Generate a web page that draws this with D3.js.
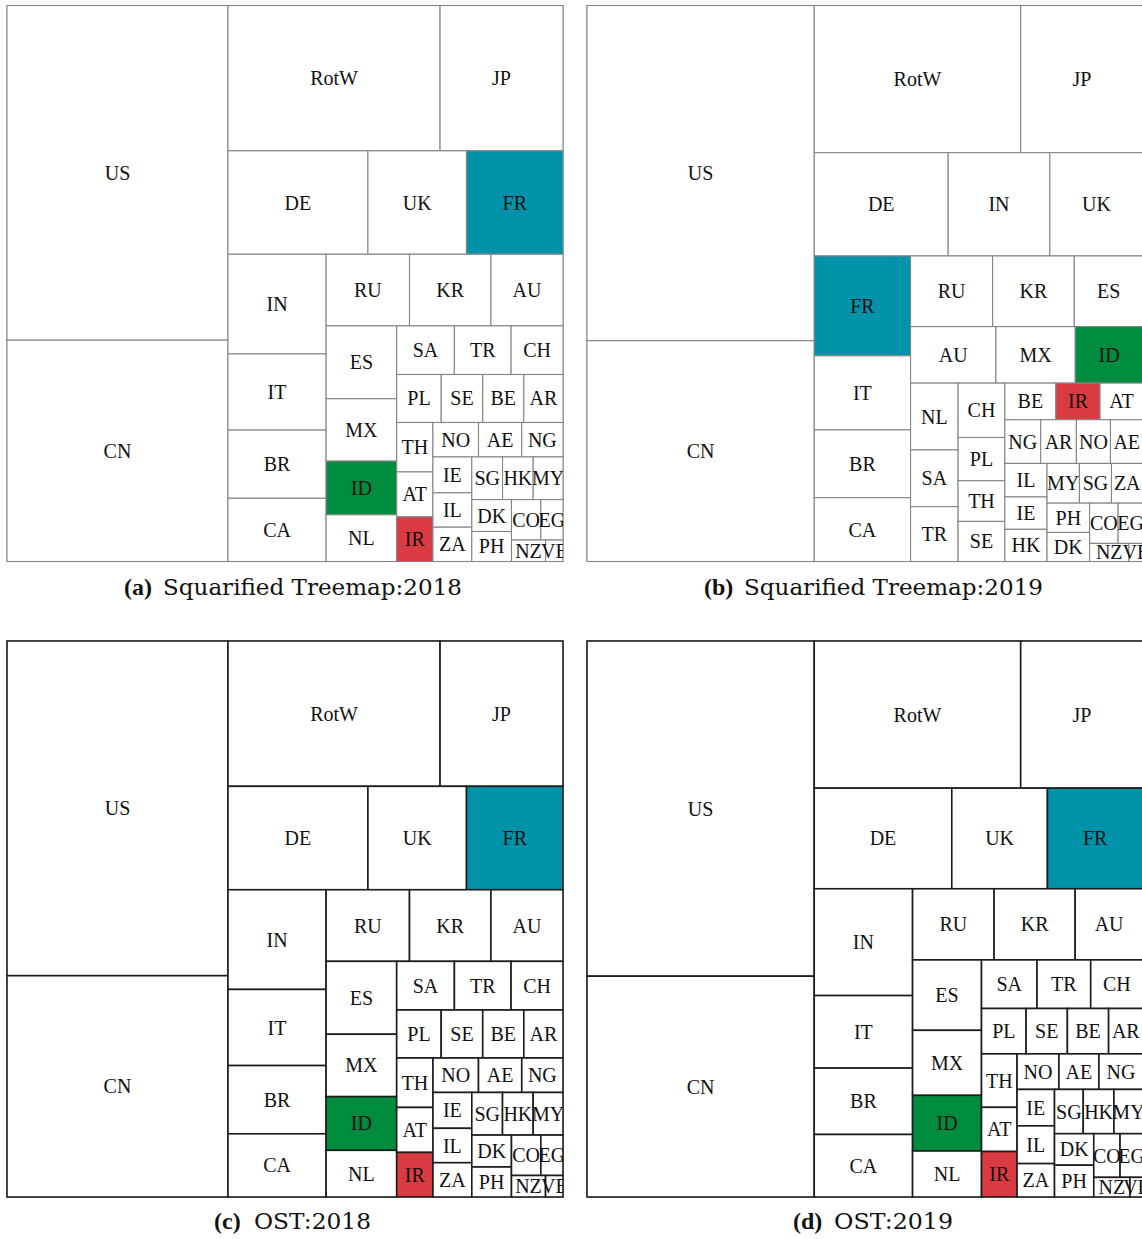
<!DOCTYPE html>
<html>
<head>
<meta charset="utf-8">
<script src="https://cdn.jsdelivr.net/npm/d3@7"></script>
<style>
  html, body { margin: 0; padding: 0; background: #fff; }
  svg { display: block; }
</style>
</head>
<body>
<svg id="chart" width="1142" height="1239"></svg>
<script>
// GDP by economy, billions of US$, listed in tile order.
const countries2018 = ["US","CN","RotW","JP","DE","UK","FR","IN","IT","BR","CA","RU","KR","AU","ES",
  "MX","ID","NL","SA","TR","CH","PL","SE","BE","AR","TH","AT","IR","NO","AE","NG","IE","IL","ZA",
  "SG","HK","MY","DK","PH","CO","EG","NZ","VE"];
const gdp2018 = [20494,13550,8540,4950,4010,2825,2765,2710,2070,1855,1718,1655,1615,1430,1426,
  1220,1050,913,778,764,700,592,552,546,521,497,452,448,435,413,394,386,370,369,
  363,362,352,351,330,329,248,203,104];

const countries2019 = ["US","CN","RotW","JP","DE","IN","UK","FR","IT","BR","CA","RU","KR","ES","AU",
  "MX","ID","NL","SA","TR","CH","PL","TH","SE","BE","IR","AT","NG","AR","NO","AE","IL","IE","HK",
  "MY","SG","ZA","PH","DK","CO","EG","NZ","VE"];
const gdp2019 = [21433,14118,8547,5064,3894,2955,2708,2706,2007,1836,1730,1631,1623,1366,1358,
  1262,1078,893,759,734,715,569,535,527,526,455,442,441,439,419,400,398,384,382,
  362,358,352,351,348,323,282,200,72];

// Highlighted economies
const fillFor = { FR: "#0092a9", ID: "#008c3f", IR: "#da3a41" };

const side = 556;
const svg = d3.select("#chart");

function makeRoot(names, values) {
  return d3.hierarchy({ children: names.map((n, i) => ({ name: n, value: values[i] })) })
    .sum(d => d.value || 0);
}
function snapshot(root) {
  return root.leaves().map(l => ({ name: l.data.name, x0: l.x0, y0: l.y0, x1: l.x1, y1: l.y1 }));
}

// Squarified layouts, one per year
const squarify = d3.treemap().tile(d3.treemapSquarify.ratio(1)).size([side, side]);
const sq2018 = snapshot(squarify(makeRoot(countries2018, gdp2018)));
const sq2019 = snapshot(squarify(makeRoot(countries2019, gdp2019)));

// Stable layout: 2019 values re-laid on the 2018 topology
const stable = d3.treemap().tile(d3.treemapResquarify.ratio(1)).size([side, side]);
const stableRoot = makeRoot(countries2018, gdp2018);
stable(stableRoot);
const st2018 = snapshot(stableRoot);
const value2019 = new Map(countries2019.map((c, i) => [c, gdp2019[i]]));
stableRoot.sum(d => d.name ? value2019.get(d.name) : 0);
stable(stableRoot);
const st2019 = snapshot(stableRoot);

const panels = [
  { key: "a", x: 7,   y: 5.5, cells: sq2018, stroke: "#858585", sw: 1.1, tag: "(a)", title: "Squarified Treemap:2018",
    tagX: 124, titleX: 163, titleLen: 299, base: 595 },
  { key: "b", x: 587, y: 5.5, cells: sq2019, stroke: "#858585", sw: 1.1, tag: "(b)", title: "Squarified Treemap:2019",
    tagX: 704, titleX: 744, titleLen: 299, base: 595 },
  { key: "c", x: 7,   y: 641, cells: st2018, stroke: "#1c1c1c", sw: 1.6, tag: "(c)", title: "OST:2018",
    tagX: 214, titleX: 254, titleLen: 117, base: 1229 },
  { key: "d", x: 587, y: 641, cells: st2019, stroke: "#1c1c1c", sw: 1.6, tag: "(d)", title: "OST:2019",
    tagX: 793, titleX: 834, titleLen: 119, base: 1229 }
];

const defs = svg.append("defs");

panels.forEach(p => {
  const sx = d3.scaleLinear().domain([0, side]).range([p.x, p.x + side]);
  const sy = d3.scaleLinear().domain([0, side]).range([p.y, p.y + side]);

  defs.append("clipPath").attr("id", "clip-" + p.key)
    .append("rect").attr("x", sx(0)).attr("y", sy(0))
    .attr("width", sx(side) - sx(0)).attr("height", sy(side) - sy(0));

  const g = svg.append("g");

  g.append("rect")
    .attr("x", sx(0)).attr("y", sy(0))
    .attr("width", sx(side) - sx(0)).attr("height", sy(side) - sy(0))
    .attr("fill", "#fff").attr("stroke", "#9a9a9a").attr("stroke-width", 1);

  g.selectAll("rect.cell").data(p.cells).join("rect")
    .attr("class", "cell")
    .attr("x", d => sx(d.x0)).attr("y", d => sy(d.y0))
    .attr("width", d => sx(d.x1) - sx(d.x0)).attr("height", d => sy(d.y1) - sy(d.y0))
    .attr("fill", d => fillFor[d.name] || "#fff")
    .attr("stroke", p.stroke).attr("stroke-width", p.sw);

  g.append("g").attr("clip-path", "url(#clip-" + p.key + ")")
    .selectAll("text").data(p.cells).join("text")
    .attr("x", d => (sx(d.x0) + sx(d.x1)) / 2)
    .attr("y", d => (sy(d.y0) + sy(d.y1)) / 2)
    .attr("dy", "0.35em")
    .attr("text-anchor", "middle")
    .attr("font-family", "'Liberation Serif', 'Times New Roman', serif")
    .attr("font-size", 20)
    .attr("fill", "#111")
    .text(d => d.name);

  svg.append("text")
    .attr("x", p.tagX).attr("y", p.base)
    .attr("font-family", "'Liberation Serif', serif")
    .attr("font-weight", "bold").attr("font-size", 24)
    .attr("fill", "#111")
    .text(p.tag);

  svg.append("text")
    .attr("x", p.titleX).attr("y", p.base)
    .attr("font-family", "'DejaVu Serif', serif")
    .attr("font-size", 22)
    .attr("textLength", p.titleLen).attr("lengthAdjust", "spacingAndGlyphs")
    .attr("fill", "#111")
    .text(p.title);
});
</script>
</body>
</html>
